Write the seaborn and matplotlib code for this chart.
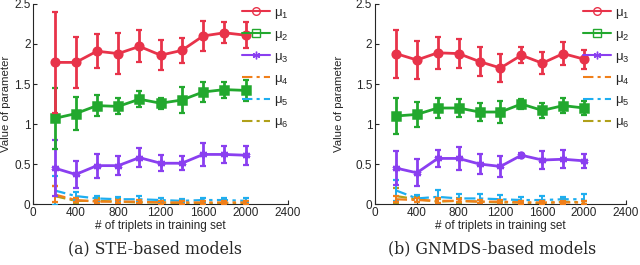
import numpy as np
import seaborn as sns
import matplotlib
matplotlib.use('Agg')
import matplotlib.pyplot as plt

# number of triplets in training set
n_triplets = [200, 400, 600, 800, 1000, 1200, 1400, 1600, 1800, 2000]

# STE-based models: mean and error of each parameter
ste_mu1 = [1.77, 1.77, 1.91, 1.88, 1.97, 1.86, 1.92, 2.10, 2.14, 2.11]
ste_mu1_err = [0.63, 0.32, 0.21, 0.26, 0.20, 0.19, 0.16, 0.19, 0.13, 0.16]
ste_mu2 = [1.07, 1.13, 1.23, 1.22, 1.31, 1.26, 1.30, 1.40, 1.43, 1.42]
ste_mu2_err = [0.38, 0.21, 0.13, 0.10, 0.10, 0.07, 0.16, 0.13, 0.10, 0.13]
ste_mu3 = [0.45, 0.37, 0.48, 0.48, 0.58, 0.51, 0.51, 0.62, 0.62, 0.61]
ste_mu3_err = [0.35, 0.17, 0.15, 0.12, 0.12, 0.10, 0.09, 0.14, 0.11, 0.12]
ste_mu4 = [0.12, 0.05, 0.03, 0.03, 0.03, 0.02, 0.02, 0.02, 0.02, 0.02]
ste_mu4_err = [0.10, 0.03, 0.02, 0.02, 0.02, 0.02, 0.02, 0.02, 0.02, 0.02]
ste_mu5 = [0.17, 0.10, 0.07, 0.06, 0.06, 0.05, 0.04, 0.05, 0.05, 0.04]
ste_mu5_err = [0.18, 0.05, 0.03, 0.03, 0.04, 0.03, 0.02, 0.03, 0.03, 0.03]
ste_mu6 = [0.10, 0.04, 0.04, 0.03, 0.02, 0.02, 0.01, 0.01, 0.01, 0.01]
ste_mu6_err = [0.12, 0.04, 0.03, 0.03, 0.02, 0.02, 0.01, 0.01, 0.01, 0.01]

# GNMDS-based models
gn_mu1 = [1.88, 1.80, 1.89, 1.88, 1.78, 1.70, 1.86, 1.76, 1.88, 1.81]
gn_mu1_err = [0.30, 0.24, 0.20, 0.18, 0.18, 0.17, 0.10, 0.14, 0.14, 0.12]
gn_mu2 = [1.10, 1.12, 1.20, 1.20, 1.15, 1.15, 1.25, 1.17, 1.23, 1.20]
gn_mu2_err = [0.22, 0.16, 0.12, 0.11, 0.11, 0.14, 0.06, 0.09, 0.09, 0.09]
gn_mu3 = [0.45, 0.39, 0.57, 0.57, 0.50, 0.47, 0.61, 0.55, 0.56, 0.54]
gn_mu3_err = [0.21, 0.17, 0.11, 0.14, 0.13, 0.13, 0.03, 0.11, 0.11, 0.09]
gn_mu4 = [0.06, 0.05, 0.04, 0.04, 0.03, 0.03, 0.02, 0.02, 0.02, 0.02]
gn_mu4_err = [0.04, 0.03, 0.03, 0.02, 0.02, 0.02, 0.02, 0.02, 0.02, 0.02]
gn_mu5 = [0.17, 0.07, 0.09, 0.07, 0.07, 0.06, 0.05, 0.05, 0.06, 0.06]
gn_mu5_err = [0.13, 0.04, 0.08, 0.05, 0.06, 0.05, 0.04, 0.05, 0.03, 0.06]
gn_mu6 = [0.10, 0.06, 0.03, 0.04, 0.03, 0.02, 0.02, 0.01, 0.03, 0.02]
gn_mu6_err = [0.10, 0.04, 0.03, 0.03, 0.02, 0.02, 0.02, 0.01, 0.03, 0.02]

labels = [r'$\mu_1$', r'$\mu_2$', r'$\mu_3$', r'$\mu_4$', r'$\mu_5$', r'$\mu_6$']
colors = ['#e8334a', '#22a82e', '#8a3ff0', '#f07f1a', '#1eaef0', '#b0a01a']
markers = ['o', 's', (6, 2, 0), None, None, None]
dashdot = (0, (5, 2, 1.5, 2))
styles = ['-', '-', '-', dashdot, dashdot, dashdot]

sns.set_style('ticks')
plt.rcParams['font.family'] = ['Liberation Sans', 'DejaVu Sans']
plt.rcParams['mathtext.default'] = 'regular'
plt.rcParams['xtick.direction'] = 'in'
plt.rcParams['ytick.direction'] = 'in'

fig = plt.figure(figsize=(6.4, 2.65), dpi=100)
ax1 = fig.add_axes([0.052, 0.230, 0.398, 0.755])
ax2 = fig.add_axes([0.586, 0.230, 0.392, 0.755])

def draw_panel(ax, means, errs, leg_x, ylab_x):
    '''draws the six parameter curves with error bars'''
    # small ones first so big curves sit on top
    for i in [5, 4, 3, 2, 1, 0]:
        kw = dict(color=colors[i], linestyle=styles[i], lw=2 if i < 3 else 1.6)
        if markers[i] is not None:
            kw.update(marker=markers[i], markersize=5.5, markerfacecolor=colors[i],
                      markeredgewidth=1.8, markeredgecolor=colors[i])
        sns.lineplot(x=n_triplets, y=means[i], ax=ax, label=labels[i],
                     errorbar=None, zorder=3 - i * 0.1, **kw)
        ax.errorbar(n_triplets, means[i], yerr=errs[i], fmt='none', ecolor=colors[i],
                    elinewidth=2 if i < 3 else 1.4, capsize=2.5, capthick=1.6,
                    zorder=3 - i * 0.1)
    ax.set_xlim(0, 2400)
    ax.set_ylim(0, 2.5)
    ax.set_xticks([0, 400, 800, 1200, 1600, 2000, 2400])
    ax.set_yticks([0, 0.5, 1, 1.5, 2, 2.5])
    ax.set_yticklabels(['0', '0.5', '1', '1.5', '2', '2.5'])
    ax.tick_params(labelsize=8.5, length=3, width=0.8, pad=2)
    ax.set_xlabel('# of triplets in training set', fontsize=8.5, labelpad=1)
    ax.set_ylabel('Value of parameter', fontsize=8.2)
    ax.yaxis.set_label_coords(ylab_x, 0.5)
    sns.despine(ax=ax)
    for sp in ['left', 'bottom']:
        ax.spines[sp].set_linewidth(0.8)
    h, l = ax.get_legend_handles_labels()
    order = [l.index(s) for s in labels]
    leg = ax.legend([h[k] for k in order], [l[k] for k in order], loc='upper left',
                    bbox_to_anchor=(leg_x, 1.0), frameon=False, fontsize=9.5,
                    handlelength=2.1, handletextpad=0.3, labelspacing=0.58,
                    borderpad=0.2, borderaxespad=0.0)
    for line in leg.get_lines():
        line.set_linewidth(1.5)
        line.set_markeredgewidth(1.0)
        line.set_markerfacecolor('none')
    leg.set_zorder(10)

draw_panel(ax1, [ste_mu1, ste_mu2, ste_mu3, ste_mu4, ste_mu5, ste_mu6],
           [ste_mu1_err, ste_mu2_err, ste_mu3_err, ste_mu4_err, ste_mu5_err, ste_mu6_err],
           0.81, -0.088)
draw_panel(ax2, [gn_mu1, gn_mu2, gn_mu3, gn_mu4, gn_mu5, gn_mu6],
           [gn_mu1_err, gn_mu2_err, gn_mu3_err, gn_mu4_err, gn_mu5_err, gn_mu6_err],
           0.82, -0.125)

fig.text(0.242, 0.062, '(a) STE-based models', ha='center', va='center',
         fontsize=11.3, family='DejaVu Serif')
fig.text(0.769, 0.062, '(b) GNMDS-based models', ha='center', va='center',
         fontsize=11.3, family='DejaVu Serif')

plt.savefig('out.png', dpi=100)
